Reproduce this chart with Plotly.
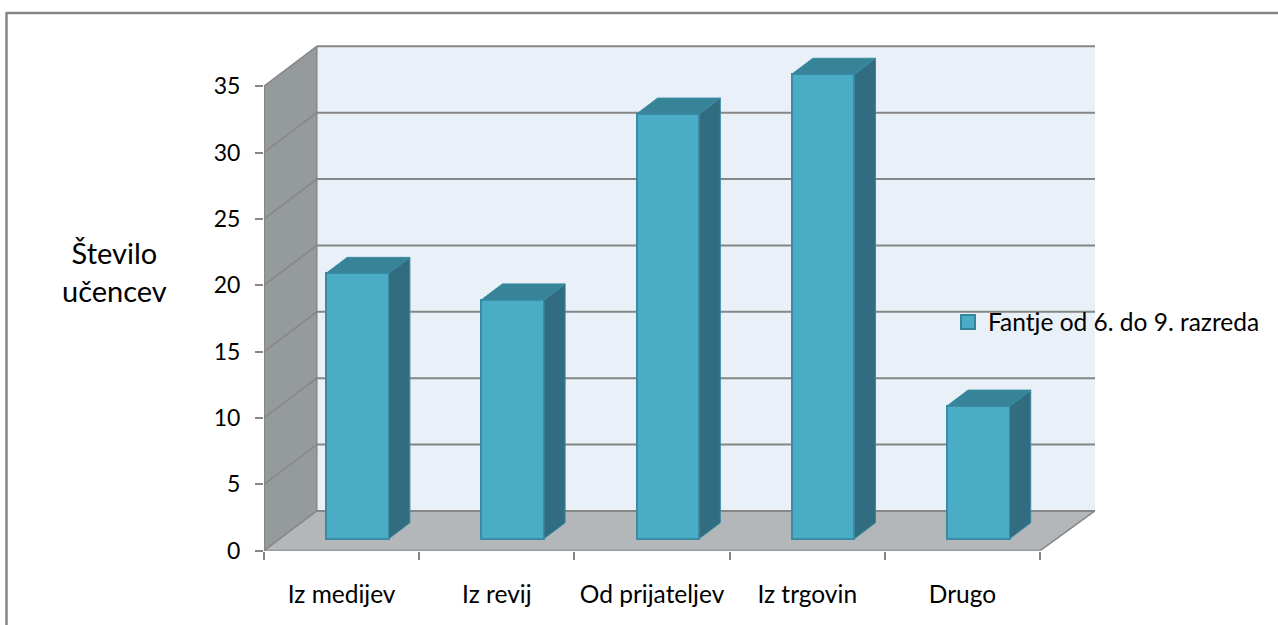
import plotly.graph_objects as go

categories = ["Iz medijev", "Iz revij", "Od prijateljev", "Iz trgovin", "Drugo"]
values = [20, 18, 32, 35, 10]
series_name = "Fantje od 6. do 9. razreda"
y_ticks = [0, 5, 10, 15, 20, 25, 30, 35]
y_title = "Število<br>učencev"

W, H = 1278, 625
FONT = "Lato"
GRID = "#868686"
FRONT, SIDE, TOP, EDGE = "#4BACC6", "#316C80", "#378498", "#3A8CA4"
BACK, WALL, FLOOR = "#E9F0F7", "#959A9C", "#B3B7BA"

# oblique projection, in axis units
DX, DY = 0.34, 3.0          # full depth of the box
XEND = 5.354                # right edge of the floor and back wall
YEND = 38.1
BAR_W = 0.404
D0, D1 = 0.30, 0.70         # bar depth band

n = len(categories)
centers = [i + 0.5 for i in range(n)]
front_x = [c + D0 * DX for c in centers]
base = D0 * DY
xmin = [c - BAR_W / 2 + D0 * DX for c in centers]
xmax = [c + BAR_W / 2 + D0 * DX for c in centers]
ox, oy = (D1 - D0) * DX, (D1 - D0) * DY

fig = go.Figure()
fig.add_trace(go.Bar(
    x=front_x, y=values, base=base, width=BAR_W, showlegend=False,
    marker=dict(color=FRONT, line=dict(color=EDGE, width=2)),
))
for l, r, v in zip(xmin, xmax, values):
    fig.add_trace(go.Scatter(
        x=[r, r + ox, r + ox, r, r], y=[base, base + oy, base + oy + v, base + v, base],
        mode="lines", fill="toself", fillcolor=SIDE, line=dict(color=EDGE, width=1),
        showlegend=False, hoverinfo="skip"))
    fig.add_trace(go.Scatter(
        x=[l, l + ox, r + ox, r, l],
        y=[base + v, base + oy + v, base + oy + v, base + v, base + v],
        mode="lines", fill="toself", fillcolor=TOP, line=dict(color=EDGE, width=1),
        showlegend=False, hoverinfo="skip"))
fig.add_trace(go.Scatter(
    x=[None], y=[None], mode="markers", name=series_name,
    marker=dict(symbol="square", size=14, color=FRONT, line=dict(color="#35859C", width=2)),
))

shapes = []
def poly(xs, ys, color):
    path = "M" + "L".join(f"{a},{b}" for a, b in zip(xs, ys)) + "Z"
    shapes.append(dict(type="path", path=path, fillcolor=color, line=dict(width=0),
                       xref="x", yref="y", layer="below"))
def line(x0, y0, x1, y1, w=2):
    shapes.append(dict(type="line", x0=x0, y0=y0, x1=x1, y1=y1, xref="x", yref="y",
                       line=dict(color=GRID, width=w), layer="below"))

top = y_ticks[-1]
poly([DX, XEND, XEND, DX], [DY, DY, top + DY, top + DY], BACK)
poly([0, DX, DX, 0], [0, DY, top + DY, top], WALL)
poly([0, 5, XEND, DX], [0, 0, DY, DY], FLOOR)
for t in y_ticks:
    line(0, t, DX, t + DY, 1.5)
    if t:
        line(DX, t + DY, XEND, t + DY)
line(DX, DY, XEND, DY)
line(5, 0, XEND, DY, 1.5)
line(DX, DY, DX, top + DY, 1.5)
line(0, 0, 0, top)
line(0, 0, 5, 0)
# outer frame, open on the right and at the bottom
shapes.append(dict(type="line", xref="paper", yref="paper", x0=6.5 / W, x1=1, y0=1 - 13 / H, y1=1 - 13 / H,
                   line=dict(color=GRID, width=2.5)))
shapes.append(dict(type="line", xref="paper", yref="paper", x0=6.5 / W, x1=6.5 / W, y0=0, y1=1 - 12 / H,
                   line=dict(color=GRID, width=2.5)))

fig.update_layout(
    width=W, height=H, autosize=False, margin=dict(l=0, r=0, t=0, b=0, autoexpand=False),
    paper_bgcolor="white", plot_bgcolor="rgba(0,0,0,0)",
    font=dict(family=FONT, color="black"),
    shapes=shapes, bargap=0,
    xaxis=dict(
        domain=[264 / W, 1095 / W], range=[0, XEND], showgrid=False, zeroline=False, showline=False,
        automargin=False,
        tickmode="array", tickvals=centers, ticktext=categories, ticks="",
        tickfont=dict(size=24.5, family=FONT), ticklabelstandoff=27,
        minor=dict(tickmode="array", tickvals=list(range(n + 1)), ticks="outside",
                   ticklen=8, tickwidth=2, tickcolor=GRID),
    ),
    yaxis=dict(
        domain=[1 - 550.7 / H, 1 - 45 / H], range=[0, YEND], showgrid=False, zeroline=False, showline=False,
        automargin=False,
        tickmode="array", tickvals=y_ticks, ticks="outside", ticklen=8, tickwidth=2, tickcolor=GRID,
        tickfont=dict(size=23, family=FONT), ticklabelstandoff=10,
    ),
    legend=dict(x=948 / W, xanchor="left", y=1 - 322 / H, yanchor="middle", bgcolor="rgba(0,0,0,0)",
                font=dict(size=24.5, family=FONT), borderwidth=0),
    annotations=[dict(text=y_title, xref="paper", yref="paper", x=114 / W, y=1 - 271 / H, showarrow=False,
                      font=dict(size=29, family=FONT), align="center", xanchor="center", yanchor="middle")],
)
fig.write_html("out.html", config=dict(displayModeBar=False), post_script="document.body.style.margin='0';")
